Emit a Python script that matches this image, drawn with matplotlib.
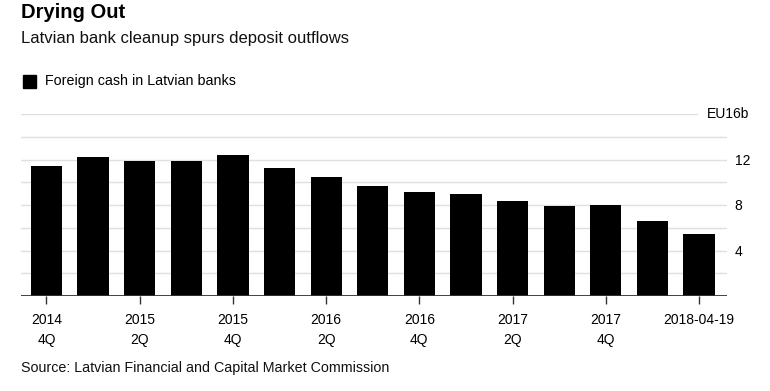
import matplotlib
matplotlib.use("Agg")
import matplotlib.pyplot as plt
import matplotlib.transforms as mtransforms
import numpy as np

plt.rcParams['font.family'] = ['Liberation Sans', 'DejaVu Sans']

# Data
periods = ["2014 4Q", "2015 1Q", "2015 2Q", "2015 3Q", "2015 4Q", "2016 1Q", "2016 2Q",
           "2016 3Q", "2016 4Q", "2017 1Q", "2017 2Q", "2017 3Q", "2017 4Q", "2018 1Q",
           "2018-04-19"]
values = [11.4, 12.2, 11.9, 11.85, 12.37, 11.25, 10.5, 9.68, 9.15, 8.95, 8.36, 7.92, 8.03, 6.6, 5.46]
tick_labels = ["2014\n4Q", "2015\n2Q", "2015\n4Q", "2016\n2Q", "2016\n4Q", "2017\n2Q", "2017\n4Q", "2018-04-19"]
y_ticks = [4, 8, 12]

W, H = 770, 391
fig = plt.figure(figsize=(W / 100, H / 100), dpi=100)
ax_left, ax_right, ax_bottom, ax_top = 21, 727, 296, 114
ax = fig.add_axes([ax_left / W, (H - ax_bottom) / H, (ax_right - ax_left) / W, (ax_bottom - ax_top) / H])

x = np.arange(len(values))
ax.bar(x, values, width=0.67, color='black', zorder=3)
ax.set_xlim(-0.547, 14.6)
ax.set_ylim(0, 16)

for s in ax.spines.values():
    s.set_visible(False)

for yv in range(2, 16, 2):
    ax.axhline(yv, color='#e0e0e0', lw=1, zorder=1)
ax.axhline(16, xmax=(697 - ax_left) / (ax_right - ax_left), color='#e0e0e0', lw=1, zorder=1)
ax.axhline(0, color='#333333', lw=1.3, zorder=4)

ax.set_xticks(x[::2])
ax.set_xticklabels(tick_labels, fontsize=10, linespacing=1.55)
ax.tick_params(axis='x', direction='out', length=6, width=1, color='#333333', pad=6)

ax.yaxis.tick_right()
ax.set_yticks(y_ticks)
ax.set_yticklabels([str(v) for v in y_ticks], fontsize=10)
ax.tick_params(axis='y', length=0, pad=5.5)

trans = mtransforms.blended_transform_factory(ax.transAxes, ax.transData)
ax.text(1 + (749 - ax_right) / (ax_right - ax_left), 16, "EU16b", ha='right', va='center',
        fontsize=10, transform=trans)

fig.text(21 / W, 1 - 12.5 / H, "Drying Out", fontsize=14.5, fontweight='bold', va='center', ha='left')
fig.text(21 / W, 1 - 38 / H, "Latvian bank cleanup spurs deposit outflows", fontsize=12,
         va='center', ha='left', color='#111111')
fig.patches.append(plt.Rectangle((23 / W, 1 - 88 / H), 13 / W, 13 / H, color='black',
                                 transform=fig.transFigure, figure=fig))
fig.text(45 / W, 1 - 81.5 / H, "Foreign cash in Latvian banks", fontsize=10.3, va='center', ha='left')
fig.text(21 / W, 1 - 368 / H, "Source: Latvian Financial and Capital Market Commission", fontsize=10.3,
         va='center', ha='left', color='#111111')

fig.savefig("out.png", dpi=100)
